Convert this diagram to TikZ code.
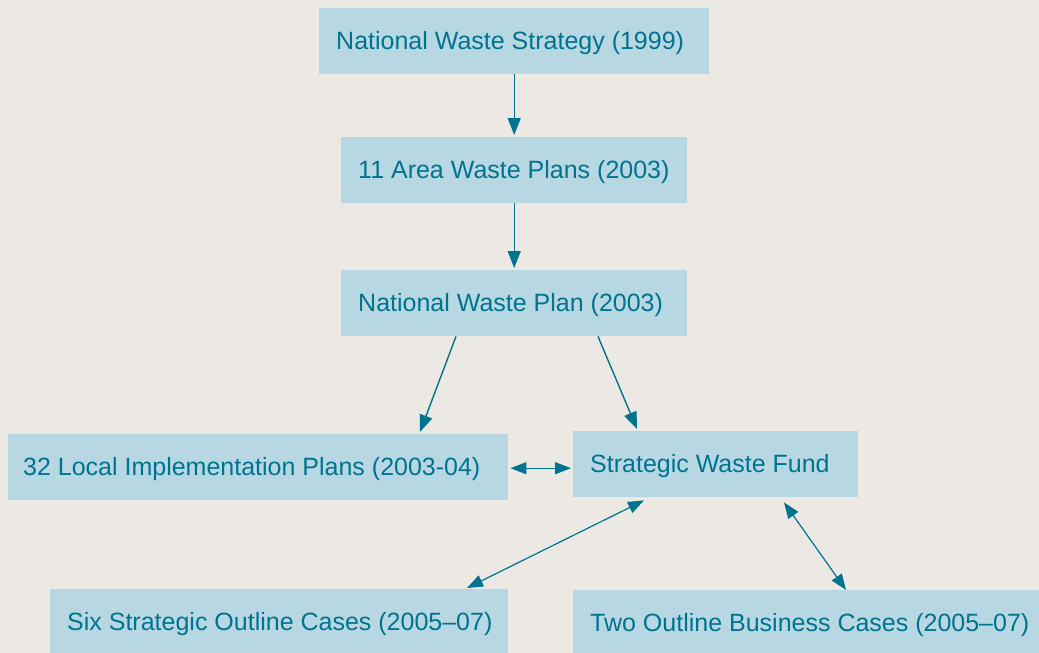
\documentclass[tikz,border=0pt]{standalone}
\usepackage{fontspec}
\setmainfont{Liberation Sans}
\usetikzlibrary{arrows.meta}
\definecolor{paper}{HTML}{ECE9E4}
\definecolor{boxfill}{HTML}{B7D7E3}
\definecolor{ink}{HTML}{00738F}
% left-aligned label inside a box of the given total width
\newcommand\boxtext[2]{\makebox[\dimexpr#1pt-34pt\relax][l]{#2}}
\begin{document}
\begin{tikzpicture}[x=1pt,y=-1pt,
  box/.style={rectangle, fill=boxfill, draw=none, anchor=north west,
    inner xsep=17pt, inner ysep=0pt, minimum height=66pt,
    text height=21.5pt, text depth=5pt,
    text=ink, font=\fontsize{25}{28}\selectfont},
  link/.style={draw=ink, line width=1.4pt,
    -{Triangle[length=17pt,width=13pt]}},
  both/.style={draw=ink, line width=1.2pt,
    {Triangle[length=16pt,width=12pt]}-{Triangle[length=16pt,width=12pt]}}]
\useasboundingbox (0,0) rectangle (1039,653);
\fill[paper] (0,0) rectangle (1039,653);

\node[box] (nws) at (319,8) {\boxtext{390}{National Waste Strategy (1999)}};
\node[box] (awp) at (341,137) {\boxtext{346}{11 Area Waste Plans (2003)}};
\node[box] (nwp) at (341,270) {\boxtext{346}{National Waste Plan (2003)}};
\node[box] (lip) at (8,434) {\boxtext{500}{\hspace*{-2pt}32 Local Implementation Plans (2003-04)}};
\node[box] (swf) at (573,431) {\boxtext{285}{Strategic Waste Fund}};
\node[box] (soc) at (50,589) {\boxtext{458}{Six Strategic Outline Cases (2005–07)}};
\node[box] (tob) at (573,590) {\boxtext{466}{Two Outline Business Cases (2005–07)}};

\draw[link] (nws.south) -- ([yshift=2pt]awp.north);
\draw[link] (awp.south) -- ([yshift=2pt]nwp.north);
\draw[link] ([xshift=115pt]nwp.south west) -- ([xshift=412pt,yshift=2pt]lip.north west);
\draw[link] ([xshift=257pt]nwp.south west) -- ([xshift=64pt,yshift=2pt]swf.north west);
\draw[both, line width=1.4pt] ([xshift=2pt,yshift=-1pt]lip.east) -- ([xshift=-2pt,yshift=-1pt]lip.east -| swf.west);
\draw[both] ([xshift=71pt,yshift=-3pt]swf.south west) -- ([xshift=417pt,yshift=1pt]soc.north west);
\draw[both] ([xshift=211pt,yshift=-5pt]swf.south west) -- ([xshift=273pt]tob.north west);
\end{tikzpicture}
\end{document}
